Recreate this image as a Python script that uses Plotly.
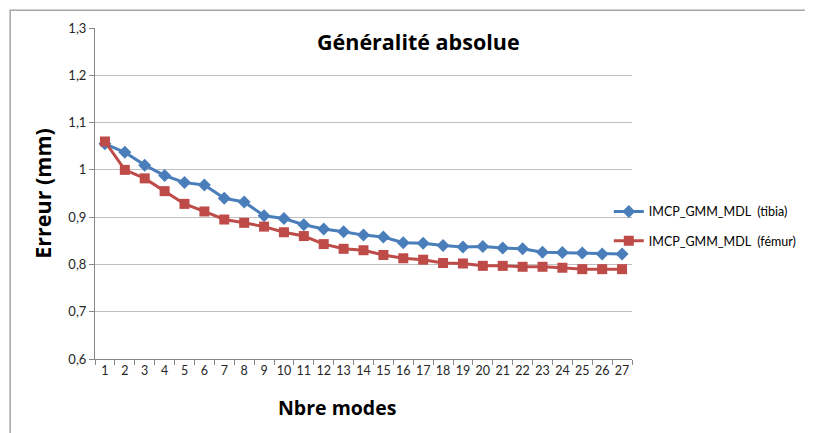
import plotly.graph_objects as go

# ---- DATA ---- #
modes = [str(i) for i in range(1, 28)]
tibia = [1.055, 1.037, 1.010, 0.988, 0.973, 0.968, 0.940, 0.932, 0.903, 0.897,
         0.884, 0.875, 0.869, 0.862, 0.858, 0.846, 0.845, 0.840, 0.837, 0.838,
         0.835, 0.833, 0.826, 0.825, 0.824, 0.822, 0.822]
femur = [1.060, 1.000, 0.982, 0.955, 0.928, 0.912, 0.895, 0.888, 0.880, 0.868,
         0.860, 0.843, 0.833, 0.830, 0.820, 0.813, 0.810, 0.803, 0.802, 0.797,
         0.797, 0.795, 0.795, 0.793, 0.790, 0.790, 0.790]
y_ticks = [0.6, 0.7, 0.8, 0.9, 1.0, 1.1, 1.2, 1.3]

FONT = "Lato, 'Open Sans', sans-serif"
TITLE_FONT = "'Open Sans', Lato, sans-serif"

# ---- PLOT ---- #
fig = go.Figure()

fig.add_trace(go.Scatter(
    x=modes, y=tibia,
    mode="lines+markers",
    line=dict(color="#4A7EBB", width=3),
    marker=dict(color="#4A7EBB", size=10, symbol="diamond"),
    name="IMCP_GMM_MDL  (tibia)",
    legendgroup="a"
))

fig.add_trace(go.Scatter(
    x=modes, y=femur,
    mode="lines+markers",
    line=dict(color="#BE4B48", width=3),
    marker=dict(color="#BE4B48", size=10, symbol="square"),
    name="IMCP_GMM_MDL  (fémur)",
    legendgroup="b"
))

# chart border (left and top visible)
fig.add_shape(
    type="rect", xref="paper", yref="paper",
    x0=-0.158, x1=1.5, y0=-0.3, y1=1.054,
    line=dict(color="#A6A6A6", width=1.5)
)

fig.add_annotation(
    text="<b>Généralité absolue</b>",
    xref="paper", yref="paper", x=0.602, y=0.958,
    xanchor="center", yanchor="middle", showarrow=False,
    font=dict(size=21.5, color="#000000", family=TITLE_FONT)
)

# x axis title (sits left of the plot centre in the original)
fig.add_annotation(
    text="<b>Nbre modes</b>",
    xref="paper", yref="paper", x=0.451, y=-0.148,
    xanchor="center", yanchor="middle", showarrow=False,
    font=dict(size=19.5, color="#000000", family=TITLE_FONT)
)

fig.update_layout(
    width=805, height=425,
    margin=dict(l=87, r=180, t=20, b=74),
    paper_bgcolor="white",
    plot_bgcolor="white",
    separators=", ",
    font=dict(family=FONT, color="#404040"),
    legend=dict(
        x=0.955, y=0.49, xanchor="left", yanchor="top",
        bgcolor="rgba(0,0,0,0)",
        font=dict(size=12.5, color="#000000", family=FONT),
        tracegroupgap=10, traceorder="grouped", itemwidth=30
    ),
    xaxis=dict(
        type="category",
        range=[-0.5, 26.5],
        tickson="boundaries",
        tickangle=0,
        ticks="outside", ticklen=5, tickcolor="#878787",
        showline=True, linecolor="#878787",
        showgrid=False,
        tickfont=dict(size=12.5, color="#262626")
    ),
    yaxis=dict(
        range=[0.6, 1.3],
        tickvals=y_ticks,
        ticks="outside", ticklen=5, tickcolor="#878787",
        showline=True, linecolor="#878787",
        showgrid=True, gridcolor="#BFBFBF",
        zeroline=False,
        tickfont=dict(size=13, color="#262626"),
        title=dict(text="<b>Erreur (mm)</b>", font=dict(size=21.5, color="#000000", family=TITLE_FONT), standoff=10)
    )
)

fig.write_html("out.html")
